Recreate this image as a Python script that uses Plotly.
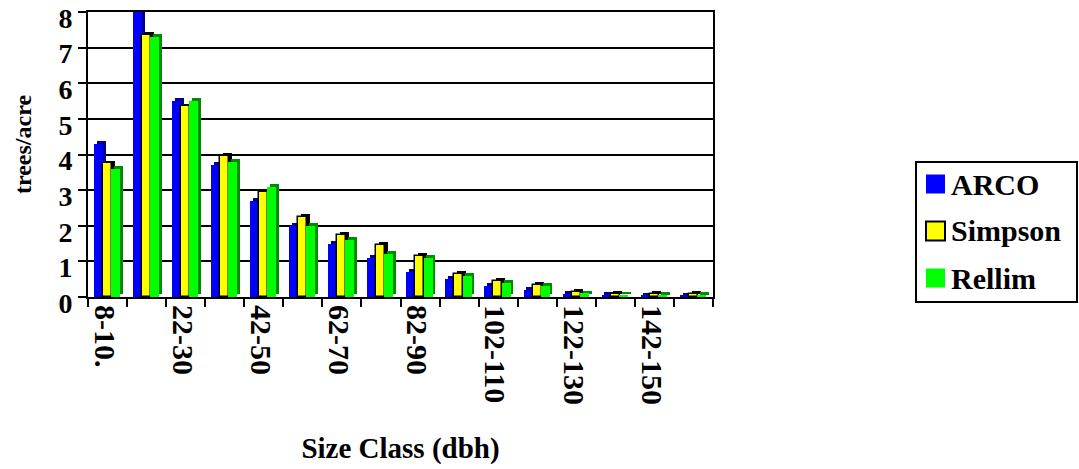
import plotly.graph_objects as go

# Size classes (dbh, inches) and the labels shown under every other class
size_classes = ["8-10.", "12-20", "22-30", "32-40", "42-50", "52-60", "62-70", "72-80",
                "82-90", "92-100", "102-110", "112-120", "122-130", "132-140", "142-150", "152-160"]
tick_labels = ["8-10.", "", "22-30", "", "42-50", "", "62-70", "",
               "82-90", "", "102-110", "", "122-130", "", "142-150", ""]

# Trees per acre by size class
arco = [4.3, 8.0, 5.5, 3.7, 2.7, 2.0, 1.5, 1.1, 0.7, 0.5, 0.3, 0.2, 0.08, 0.05, 0.03, 0.03]
simpson = [3.75, 7.35, 5.35, 3.95, 2.95, 2.25, 1.75, 1.45, 1.15, 0.65, 0.45, 0.35, 0.15, 0.08, 0.08, 0.08]
rellim = [3.6, 7.3, 5.5, 3.8, 3.1, 2.0, 1.6, 1.2, 1.1, 0.6, 0.4, 0.3, 0.1, 0.07, 0.05, 0.05]

series_names = ["ARCO", "Simpson", "Rellim"]
series_values = [arco, simpson, rellim]
front_colors = ["#0000FF", "#FFFF00", "#00FF00"]
side_colors = ["#00008C", "#000000", "#008C00"]
outline_widths = [0, 1.5, 0]
offsets = [-0.35, -0.12, 0.09]

BAR_W = 0.23      # bar width in category units
DEPTH_X = 0.07    # pseudo-3D depth shift to the right (category units)
DEPTH_Y = 0.08    # pseudo-3D depth shift upward (value units)

W, H = 1079, 469
L, R, T, B = 88, 366, 12, 172
FONT = "Liberation Serif"

fig = go.Figure()
for name, vals, fc, sc, lw, off in zip(series_names, series_values, front_colors,
                                        side_colors, outline_widths, offsets):
    # shaded back/side of the column
    fig.add_trace(go.Bar(
        x=size_classes, y=vals, base=DEPTH_Y, offset=off + DEPTH_X, width=BAR_W,
        marker=dict(color=sc, line=dict(width=0)), showlegend=False, hoverinfo="skip"))
    # front face of the column
    fig.add_trace(go.Bar(
        x=size_classes, y=vals, offset=off, width=BAR_W, name=name,
        marker=dict(color=fc, line=dict(color="#000000", width=lw)), showlegend=False))


def px_x(px):
    return (px - L) / (W - L - R)


def px_y(py):
    return (H - B - py) / (H - T - B)


# legend box drawn in paper coordinates
shapes = [dict(type="rect", xref="paper", yref="paper",
               x0=px_x(916), x1=px_x(1077), y0=px_y(302), y1=px_y(162),
               line=dict(color="#000000", width=2), fillcolor="white")]
annotations = []
row_centers = [184, 231, 278]
for name, fc, lw, cy in zip(series_names, front_colors, outline_widths, row_centers):
    shapes.append(dict(type="rect", xref="paper", yref="paper",
                       x0=px_x(926), x1=px_x(945), y0=px_y(cy + 9.5), y1=px_y(cy - 9.5),
                       fillcolor=fc,
                       line=dict(color="#000000", width=2) if lw else dict(width=0)))
    annotations.append(dict(xref="paper", yref="paper", x=px_x(949), y=px_y(cy),
                            xanchor="left", yanchor="middle", showarrow=False, text=name,
                            font=dict(family=FONT, size=30, color="#000000", weight="bold")))

# y-axis title, set slightly above the middle of the axis
annotations.append(dict(xref="paper", yref="paper", x=px_x(23), y=px_y(145),
                        xanchor="center", yanchor="middle", showarrow=False, textangle=-90,
                        text="trees/acre",
                        font=dict(family=FONT, size=24, color="#000000", weight="bold")))

fig.update_layout(
    width=W, height=H,
    margin=dict(l=L, r=R, t=T, b=B),
    paper_bgcolor="white", plot_bgcolor="white",
    barmode="overlay", bargap=0,
    shapes=shapes, annotations=annotations,
    font=dict(family=FONT, color="#000000"),
)
fig.update_xaxes(
    type="category", categoryorder="array", categoryarray=size_classes,
    range=[-0.5, len(size_classes) - 0.5], automargin=False,
    tickmode="array", tickvals=size_classes, ticktext=tick_labels,
    tickson="boundaries", ticks="outside", ticklen=8, tickwidth=2, tickcolor="#000000",
    tickangle=90, tickfont=dict(family=FONT, size=30, weight="bold"), ticklabelshift=-3,
    showline=True, linewidth=2, linecolor="#000000", mirror=True, showgrid=False,
    title=dict(text="Size Class (dbh)", font=dict(family=FONT, size=29, weight="bold"), standoff=34),
)
fig.update_yaxes(
    range=[0, 8], dtick=1, tick0=0, automargin=False,
    showgrid=True, gridcolor="#000000", gridwidth=2, zeroline=False,
    ticks="outside", ticklen=8, tickwidth=2, tickcolor="#000000",
    tickfont=dict(family=FONT, size=28, weight="bold"), ticklabeloverflow="allow",
    ticklabelshift=6,
    showline=True, linewidth=2, linecolor="#000000", mirror=True,
)

fig.write_html("out.html")
